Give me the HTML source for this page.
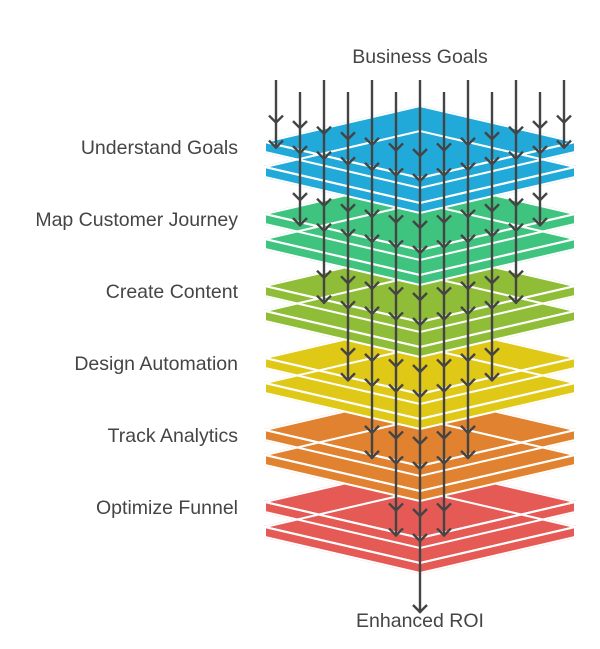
<!DOCTYPE html>
<html><head><meta charset="utf-8"><style>
html,body{margin:0;padding:0;background:#fff;width:600px;height:649px;overflow:hidden}
text{font-family:"Liberation Sans",sans-serif;font-size:19.5px;fill:#454545}
</style></head><body>
<svg id="s" width="600" height="649" viewBox="0 0 600 649" xmlns="http://www.w3.org/2000/svg">
<g id="layers"></g>
<g id="arrows" stroke="#444" stroke-width="2.4" fill="none" stroke-linecap="butt"></g>
<text x="420" y="63" text-anchor="middle">Business Goals</text>
<text x="238" y="154" text-anchor="end">Understand Goals</text>
<text x="238" y="226" text-anchor="end">Map Customer Journey</text>
<text x="238" y="298" text-anchor="end">Create Content</text>
<text x="238" y="370" text-anchor="end">Design Automation</text>
<text x="238" y="442" text-anchor="end">Track Analytics</text>
<text x="238" y="514" text-anchor="end">Optimize Funnel</text>
<text x="420" y="627" text-anchor="middle">Enhanced ROI</text>
</svg>
<script>
var NS="http://www.w3.org/2000/svg";
var colors=["#20a9d9","#3fc47f","#8fbd37","#e0c817","#e0822f","#e55a55"];
var L=document.getElementById("layers"),A=document.getElementById("arrows");
function poly(pts,fill,stroke){var p=document.createElementNS(NS,"polygon");p.setAttribute("points",pts.map(function(q){return q.join(",")}).join(" "));p.setAttribute("fill",fill);p.setAttribute("stroke",stroke);p.setAttribute("stroke-width","2");L.appendChild(p);}
function shapes(y){var t=10;return [
 [[265,y+36],[420,y+72],[575,y+36],[575,y+36+t],[420,y+72+t],[265,y+36+t]],
 [[265,y+36],[420,y],[575,y+36],[420,y+72]]];}
for(var k=5;k>=0;k--){var y0=106+72*k;
 var s=shapes(y0+25).concat(shapes(y0));
 s.forEach(function(p){poly(p,colors[k],colors[k]);});
 s.forEach(function(p){poly(p,"none","#fff");});
}
function line(x1,y1,x2,y2){var l=document.createElementNS(NS,"line");l.setAttribute("x1",x1);l.setAttribute("y1",y1);l.setAttribute("x2",x2);l.setAttribute("y2",y2);A.appendChild(l);}
function chev(x,y){var p=document.createElementNS(NS,"polyline");p.setAttribute("points",(x-7)+","+(y-7)+" "+x+","+y+" "+(x+7)+","+(y-7));A.appendChild(p);}
var xs=[276,300,324,348,372,396,420,444,468,492,516,540,564];
xs.forEach(function(x,i){
 var start=(i%2==0)?80:92;var dx=Math.abs(x-420);
 var n=7-Math.round(dx/24);if(n<1)n=1;if(n>6)n=6;
 var end=0;
 for(var k=0;k<n;k++){var c1=106+72*k+50-36*dx/155;chev(x,c1);chev(x,c1+25);end=c1+25;}
 if(x==420){end=612;chev(x,end);}
 line(x,start,x,end+1);
});
</script>
</body></html>
